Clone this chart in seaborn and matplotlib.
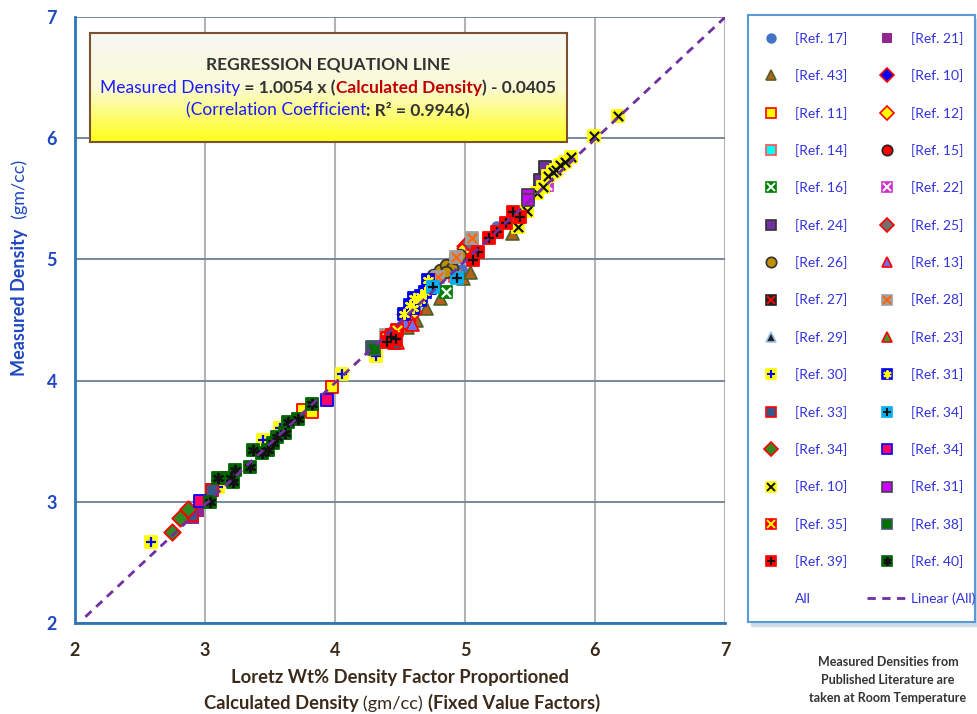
import numpy as np
import pandas as pd
import seaborn as sns
import matplotlib.pyplot as plt
from matplotlib.lines import Line2D
from matplotlib.text import Annotation
from matplotlib.legend_handler import HandlerTuple
from matplotlib.colors import LinearSegmentedColormap
from matplotlib.ticker import MultipleLocator
from matplotlib.patches import Rectangle

sns.set_style("white")
plt.rcParams['font.family'] = ['Lato', 'DejaVu Sans']

# regression line stated in the chart
slope = 1.0054
intercept = -0.0405
line_x = [2.08, 7.0]

# measured vs calculated density (x = calculated, y = measured)
ref17_x = [4.977, 4.962, 4.50, 5.246, 4.62]
ref17_y = [4.913, 4.871, 4.42, 5.267, 4.60]
ref21_x = [2.908, 2.946, 5.05]
ref21_y = [2.866, 2.924, 5.02]
ref43_x = [4.808, 4.70, 4.985, 5.038, 5.362, 4.62, 4.55]
ref43_y = [4.681, 4.60, 4.847, 4.896, 5.218, 4.50, 4.44]
ref10a_x = [4.538, 5.0]
ref10a_y = [4.55, 5.11]
ref11_x = [3.054, 3.754, 3.823, 3.60, 3.977, 4.40]
ref11_y = [3.097, 3.757, 3.741, 3.57, 3.947, 4.36]
ref12_x = [5.0, 4.60, 4.55]
ref12_y = [5.094, 4.57, 4.50]
ref14_x = [4.92]
ref14_y = [4.86]
ref15_x = [4.45, 4.40]
ref15_y = [4.33, 4.34]
ref16_x = [4.854]
ref16_y = [4.731]
ref22_x = [5.631, 5.05]
ref22_y = [5.614, 5.13]
ref24_x = [5.615, 5.577]
ref24_y = [5.762, 5.655]
ref25_x = [5.03, 4.44]
ref25_y = [5.14, 4.39]
ref26_x = [4.754, 4.808, 4.854, 4.90, 4.923, 4.962, 4.85]
ref26_y = [4.87, 4.913, 4.954, 4.929, 5.012, 5.036, 4.90]
ref13_x = [4.538, 4.592]
ref13_y = [4.483, 4.47]
ref27_x = [4.42]
ref27_y = [4.33]
ref28_x = [4.79, 4.93, 5.05, 4.39]
ref28_y = [4.855, 5.02, 5.18, 4.376]
ref29_x = [4.45]
ref29_y = [4.36]
ref23_x = [4.48]
ref23_y = [4.32]
ref30_x = [2.585, 3.446, 3.577, 4.054, 4.315, 3.10]
ref30_y = [2.668, 3.51, 3.609, 4.054, 4.203, 3.12]
ref31a_x = [4.531, 4.577, 4.608, 4.654, 4.692, 4.731, 4.715, 4.60, 4.66]
ref31a_y = [4.55, 4.624, 4.681, 4.665, 4.731, 4.764, 4.83, 4.60, 4.70]
ref33_x = [2.90, 3.054, 3.17, 4.45]
ref33_y = [2.891, 3.097, 3.20, 4.31]
ref34a_x = [4.754, 4.938]
ref34a_y = [4.772, 4.847]
ref34b_x = [2.746, 2.808, 2.869]
ref34b_y = [2.751, 2.866, 2.941]
ref34c_x = [2.962, 3.938]
ref34c_y = [3.007, 3.84]
ref10b_x = [5.408, 5.477, 5.554, 5.60, 5.638, 5.677, 5.731, 5.769, 5.815, 5.992, 6.177, 5.70]
ref10b_y = [5.267, 5.399, 5.548, 5.60, 5.688, 5.72, 5.779, 5.80, 5.845, 6.018, 6.183, 5.74]
ref31b_x = [5.485, 5.485]
ref31b_y = [5.531, 5.49]
ref35_x = [4.40, 4.44, 4.48]
ref35_y = [4.35, 4.38, 4.42]
ref38_x = [4.285, 4.30]
ref38_y = [4.277, 4.26]
ref39_x = [5.062, 5.185, 5.246, 5.315, 5.369, 5.423, 4.40, 4.47, 4.43, 5.10]
ref39_y = [4.995, 5.177, 5.226, 5.30, 5.391, 5.35, 4.32, 4.34, 4.36, 5.06]
ref40_x = [3.038, 3.10, 3.215, 3.231, 3.346, 3.369, 3.438, 3.485, 3.523, 3.554,
           3.615, 3.638, 3.715, 3.823, 3.20]
ref40_y = [2.998, 3.196, 3.163, 3.262, 3.287, 3.427, 3.403, 3.43, 3.485, 3.535,
           3.568, 3.658, 3.683, 3.807, 3.20]

AST = (6, 2, 0)
# label, x, y, marker, face, edge, overlay marker, overlay colour
series = [
    ("[Ref. 17]", ref17_x, ref17_y, "o", "#4472c4", "none", None, None),
    ("[Ref. 21]", ref21_x, ref21_y, "s", "#92278f", "none", None, None),
    ("[Ref. 43]", ref43_x, ref43_y, "^", "#b5601c", "#4f6228", None, None),
    ("[Ref. 10]", ref10a_x, ref10a_y, "D", "#0000ff", "#ff0000", None, None),
    ("[Ref. 11]", ref11_x, ref11_y, "s", "#ffff00", "#ff0000", None, None),
    ("[Ref. 12]", ref12_x, ref12_y, "D", "#ffff00", "#ff0000", None, None),
    ("[Ref. 14]", ref14_x, ref14_y, "s", "#00ffff", "#ff5050", None, None),
    ("[Ref. 15]", ref15_x, ref15_y, "o", "#ff0000", "#222222", None, None),
    ("[Ref. 16]", ref16_x, ref16_y, "s", "#008000", "#008000", "x", "white"),
    ("[Ref. 22]", ref22_x, ref22_y, "s", "#cc33cc", "#cc33cc", "x", "white"),
    ("[Ref. 24]", ref24_x, ref24_y, "s", "#7030a0", "#333333", None, None),
    ("[Ref. 25]", ref25_x, ref25_y, "D", "#707070", "#ff0000", None, None),
    ("[Ref. 26]", ref26_x, ref26_y, "o", "#bf8f00", "#333333", None, None),
    ("[Ref. 13]", ref13_x, ref13_y, "^", "#7070ee", "#ff0000", None, None),
    ("[Ref. 27]", ref27_x, ref27_y, "s", "#222222", "#222222", "x", "#ff0000"),
    ("[Ref. 28]", ref28_x, ref28_y, "s", "#a0a0a0", "#a0a0a0", "x", "#ff6600"),
    ("[Ref. 29]", ref29_x, ref29_y, "^", "#222222", "#9dc3e6", None, None),
    ("[Ref. 23]", ref23_x, ref23_y, "^", "#33a02c", "#ff0000", None, None),
    ("[Ref. 30]", ref30_x, ref30_y, "s", "#ffff00", "#ffff00", "+", "#0000ff"),
    ("[Ref. 31]", ref31a_x, ref31a_y, "s", "#0000ff", "#0000ff", AST, "#ffff00"),
    ("[Ref. 33]", ref33_x, ref33_y, "s", "#355a8a", "#ff0000", None, None),
    ("[Ref. 34]", ref34a_x, ref34a_y, "s", "#00b0f0", "#00b0f0", "+", "#111111"),
    ("[Ref. 34]", ref34b_x, ref34b_y, "D", "#2e8b22", "#ff0000", None, None),
    ("[Ref. 34]", ref34c_x, ref34c_y, "s", "#ff0066", "#0000ff", None, None),
    ("[Ref. 10]", ref10b_x, ref10b_y, "s", "#ffff00", "#ffff00", "x", "#111111"),
    ("[Ref. 31]", ref31b_x, ref31b_y, "s", "#cc00ff", "#444444", None, None),
    ("[Ref. 35]", ref35_x, ref35_y, "s", "#ff0000", "#ff0000", "x", "#ffff00"),
    ("[Ref. 38]", ref38_x, ref38_y, "s", "#007000", "#44546a", None, None),
    ("[Ref. 39]", ref39_x, ref39_y, "s", "#ff0000", "#ff0000", "+", "#111111"),
    ("[Ref. 40]", ref40_x, ref40_y, "s", "#006400", "#006400", AST, "#111111"),
]

fig = plt.figure(figsize=(9.77, 7.14), dpi=100)
ax = fig.add_axes([75 / 977, 1 - 623 / 714, 650 / 977, 606 / 714])

blue = "#2e75b6"
ax.set_xlim(2, 7)
ax.set_ylim(2, 7)
ax.xaxis.set_major_locator(MultipleLocator(1))
ax.yaxis.set_major_locator(MultipleLocator(1))
ax.xaxis.set_minor_locator(MultipleLocator(0.2))
ax.yaxis.set_minor_locator(MultipleLocator(0.2))
ax.set_axisbelow(True)
ax.grid(axis="x", which="major", color="#b3b3b3", lw=1.5)
ax.grid(axis="y", which="major", color="#6f7f96", lw=1.3)
for s in ["top", "right"]:
    ax.spines[s].set_visible(False)
for s in ["left", "bottom"]:
    ax.spines[s].set_color(blue)
    ax.spines[s].set_linewidth(2)
ax.tick_params(axis="both", which="both", direction="in", color=blue, width=1.5)
ax.tick_params(axis="both", which="major", length=6)
ax.tick_params(axis="both", which="minor", length=5)
ax.tick_params(axis="x", which="major", labelsize=13, labelcolor="#3b2a1a", pad=14)
ax.tick_params(axis="y", which="major", labelsize=13, labelcolor="#1f48c0", pad=13)
for lab in ax.get_xticklabels() + ax.get_yticklabels():
    lab.set_fontweight("bold")

for label, xs, ys, mk, fc, ec, om, oc in series:
    sns.scatterplot(x=xs, y=ys, ax=ax, marker=mk, color=fc, edgecolor=ec,
                    linewidth=1.3, s=70 if mk != "^" else 85, zorder=3)
    if om is not None:
        sns.scatterplot(x=xs, y=ys, ax=ax, marker=om, color=oc,
                        linewidth=1.6, s=45, zorder=3)

sns.lineplot(x=line_x, y=[slope * v + intercept for v in line_x], ax=ax,
             color="#7030a0", lw=2, linestyle=(0, (3, 2.3)), zorder=4)

ax.set_xlabel("")
ax.set_ylabel("")
brown = "#3b2a1a"
fig.text(400 / 977, 1 - 678 / 714, "Loretz Wt% Density Factor Proportioned",
         ha="center", va="center", fontsize=13.2, weight="bold", color=brown)


def rich(pieces, x, y, size, rotation=0):
    first = None
    prev = None
    for txt, col, w in pieces:
        if prev is None:
            prev = fig.text(x, y, txt, color=col, weight=w, fontsize=size,
                            ha="left" if rotation == 0 else "center",
                            va="center" if rotation == 0 else "bottom",
                            rotation=rotation, zorder=10)
            first = prev
        else:
            if rotation == 0:
                a = Annotation(txt, xy=(1, 0), xycoords=prev, va="bottom", ha="left",
                               color=col, weight=w, fontsize=size)
            else:
                a = Annotation(txt, xy=(0.5, 1), xycoords=prev, va="bottom", ha="center",
                               color=col, weight=w, fontsize=size, rotation=90)
            a.set_zorder(10)
            fig.add_artist(a)
            prev = a
    return first, prev


def center_rich(first, last, c, rotation=0):
    fig.canvas.draw()
    r = fig.canvas.get_renderer()
    b0 = first.get_window_extent(r)
    b1 = last.get_window_extent(r)
    if rotation == 0:
        width = b1.x1 - b0.x0
        first.set_x((c * 977 - width / 2) / 977)
    else:
        height = b1.y1 - b0.y0
        first.set_y((c * 714 - height / 2) / 714)


f, l = rich([("Calculated Density", brown, "bold"), (" (gm/cc) ", brown, "normal"),
             ("(Fixed Value Factors)", brown, "bold")], 0.2, 1 - 703 / 714, 13.2)
center_rich(f, l, 402 / 977)

f2, l2 = rich([("Measured Density", "#1f48c0", "bold"), ("  (gm/cc)", "#1f48c0", "normal")],
              20 / 977, 0.5, 13, rotation=90)
center_rich(f2, l2, 1 - 268 / 714, rotation=90)

for i, t in enumerate(["Measured Densities from", "Published Literature are",
                       "taken at Room Temperature"]):
    fig.text(888 / 977, 1 - (662 + 18 * i) / 714, t, ha="center", va="center",
             fontsize=9, weight="bold", color="#333333")

# regression box
fig.patches.append(Rectangle((93 / 977, 1 - 145 / 714), 477 / 977, 109 / 714,
                             transform=fig.transFigure, color="#c8c8c8", zorder=-1))
bax = fig.add_axes([90 / 977, 1 - 142 / 714, 477 / 977, 109 / 714])
cmap = LinearSegmentedColormap.from_list("yel", ["#f7f7f5", "#fbfad5", "#ffff1a"])
bax.imshow(np.linspace(0, 1, 100).reshape(-1, 1), aspect="auto", cmap=cmap,
           extent=[0, 1, 0, 1])
bax.set_xticks([])
bax.set_yticks([])
for s in bax.spines.values():
    s.set_color("#7a5230")
    s.set_linewidth(1.5)
dark = "#333333"
bax.text(0.5, 1 - 32 / 109, "REGRESSION EQUATION LINE", transform=bax.transAxes,
         ha="center", va="center", fontsize=12.5, weight="bold", color=dark)
f3, l3 = rich([("Measured Density", "#1a1aff", "normal"), (" = 1.0054 x (", dark, "bold"),
               ("Calculated Density", "#c00000", "bold"), (") - 0.0405", dark, "bold")],
              0.2, 1 - 88 / 714, 12.5)
center_rich(f3, l3, 328 / 977)
f4, l4 = rich([("(Correlation Coefficient", "#1a1aff", "normal"), (": R² = 0.9946)", dark, "bold")],
              0.2, 1 - 110 / 714, 12.5)
center_rich(f4, l4, 328 / 977)

# legend panel
fig.patches.append(Rectangle((751 / 977, 1 - 626 / 714), 227 / 977, 607 / 714,
                             transform=fig.transFigure, color="#d0dcea", zorder=-1))
lax = fig.add_axes([748 / 977, 1 - 622 / 714, 227 / 977, 607 / 714])
lax.set_xticks([])
lax.set_yticks([])
for s in lax.spines.values():
    s.set_color("#5b9bd5")
    s.set_linewidth(1.5)

handles = []
labels = []
for label, xs, ys, mk, fc, ec, om, oc in series:
    h = Line2D([], [], linestyle="none", marker=mk, markerfacecolor=fc,
               markeredgecolor=ec, markeredgewidth=1.2, markersize=7.5)
    if om is not None:
        h = (h, Line2D([], [], linestyle="none", marker=om, color=oc,
                       markeredgewidth=1.4, markersize=6))
    handles.append(h)
    labels.append(label)
left_h = handles[0::2] + [Line2D([], [], linestyle="none")]
left_l = labels[0::2] + ["All"]
right_h = handles[1::2] + [Line2D([], [], color="#7030a0", lw=2, linestyle=(0, (3, 2.3)))]
right_l = labels[1::2] + ["Linear (All)"]
lax.legend(left_h + right_h, left_l + right_l, ncol=2, loc="center left",
           bbox_to_anchor=(3 / 227, 0.5), frameon=False, borderpad=0,
           fontsize=10, labelcolor="#3333dd", handlelength=2.9, handletextpad=0.25,
           columnspacing=1.45, labelspacing=1.76, borderaxespad=0,
           handler_map={tuple: HandlerTuple(ndivide=1)})

fig.savefig("out.png", dpi=100)
